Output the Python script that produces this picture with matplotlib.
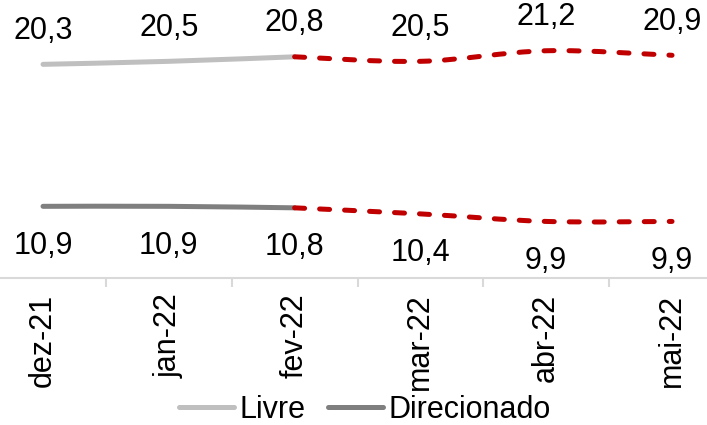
import numpy as np
import matplotlib
matplotlib.use('Agg')
import matplotlib.pyplot as plt
from matplotlib.path import Path
from matplotlib.patches import PathPatch
from matplotlib.lines import Line2D

plt.rcParams['font.family'] = ['Liberation Sans', 'DejaVu Sans']

meses = ['dez-21', 'jan-22', 'fev-22', 'mar-22', 'abr-22', 'mai-22']

# realizado (cinza) e projeção (vermelho tracejado, começa em fev-22)
livre_real = [20.3, 20.5, 20.8]
livre_proj = [20.8, 20.5, 21.2, 20.9]
direc_real = [10.9, 10.9, 10.8]
direc_proj = [10.8, 10.4, 9.9, 9.9]

cor_livre = '#BFBFBF'
cor_direc = '#7F7F7F'
cor_proj = '#C00000'
cor_eixo = '#D9D9D9'


def curva_suave(xs, ys):
    # curva bezier no estilo "linha suavizada" do Excel
    xs = np.asarray(xs, float)
    ys = np.asarray(ys, float)
    n = len(xs)
    verts = [(xs[0], ys[0])]
    codes = [Path.MOVETO]
    for i in range(n - 1):
        x0, y0 = (xs[i - 1], ys[i - 1]) if i > 0 else (xs[i], ys[i])
        x3, y3 = (xs[i + 2], ys[i + 2]) if i + 2 < n else (xs[i + 1], ys[i + 1])
        c1 = (xs[i] + (xs[i + 1] - x0) / 6, ys[i] + (ys[i + 1] - y0) / 6)
        c2 = (xs[i + 1] - (x3 - xs[i]) / 6, ys[i + 1] - (y3 - ys[i]) / 6)
        verts += [c1, c2, (xs[i + 1], ys[i + 1])]
        codes += [Path.CURVE4] * 3
    return Path(verts, codes)


fig = plt.figure(figsize=(7.07, 4.25), dpi=100)
ax = fig.add_axes([0, 0.345, 1, 0.655])

x = np.arange(len(meses))
x_real = x[:3]
x_proj = x[2:]

for xs, ys, cor in [(x_real, livre_real, cor_livre), (x_real, direc_real, cor_direc)]:
    ax.add_patch(PathPatch(curva_suave(xs, ys), facecolor='none', edgecolor=cor,
                           lw=3.6, capstyle='round', zorder=2))

for ys in [livre_proj, direc_proj]:
    p = PathPatch(curva_suave(x_proj, ys), facecolor='none', edgecolor=cor_proj,
                  lw=3.6, capstyle='round', linestyle=(0, (2.0, 3.0)), zorder=3)
    ax.add_patch(p)

# rótulos de dados
livre_tudo = livre_real + livre_proj[1:]
direc_tudo = direc_real + direc_proj[1:]
for i in range(len(meses)):
    ax.annotate(f'{livre_tudo[i]:.1f}'.replace('.', ','), (x[i], livre_tudo[i]),
                xytext=(0, 24), textcoords='offset points', ha='center', va='center',
                fontsize=22, annotation_clip=False)
    ax.annotate(f'{direc_tudo[i]:.1f}'.replace('.', ','), (x[i], direc_tudo[i]),
                xytext=(0, -28.5), textcoords='offset points', ha='center', va='center',
                fontsize=22, annotation_clip=False)

for s in ['top', 'right', 'left']:
    ax.spines[s].set_visible(False)
ax.spines['bottom'].set_color(cor_eixo)
ax.spines['bottom'].set_linewidth(1.5)
ax.set_yticks([])

ax.set_xticks(x)
ax.set_xticklabels(meses, rotation=90, fontsize=22, va='top')
ax.tick_params(axis='x', which='major', length=0, pad=11)
ax.set_xticks(np.arange(0.5, len(meses) - 1), minor=True)
ax.tick_params(axis='x', which='minor', length=6.5, width=1.5, color=cor_eixo)

# limites por último (set_xticks pode expandir os limites)
ax.set_xlim(-0.342, -0.342 + 707 / 125.8)
ax.set_ylim(6.13, 24.56)

handles = [Line2D([], [], color=cor_livre, lw=3.6, solid_capstyle='round'),
           Line2D([], [], color=cor_direc, lw=3.6, solid_capstyle='round')]
fig.legend(handles, ['Livre', 'Direcionado'], loc='center', bbox_to_anchor=(0.516, 0.036),
           ncol=2, frameon=False, fontsize=22, handlelength=1.8, handletextpad=0.2,
           columnspacing=0.72, borderpad=0, borderaxespad=0)

plt.savefig('out.png', dpi=100)
